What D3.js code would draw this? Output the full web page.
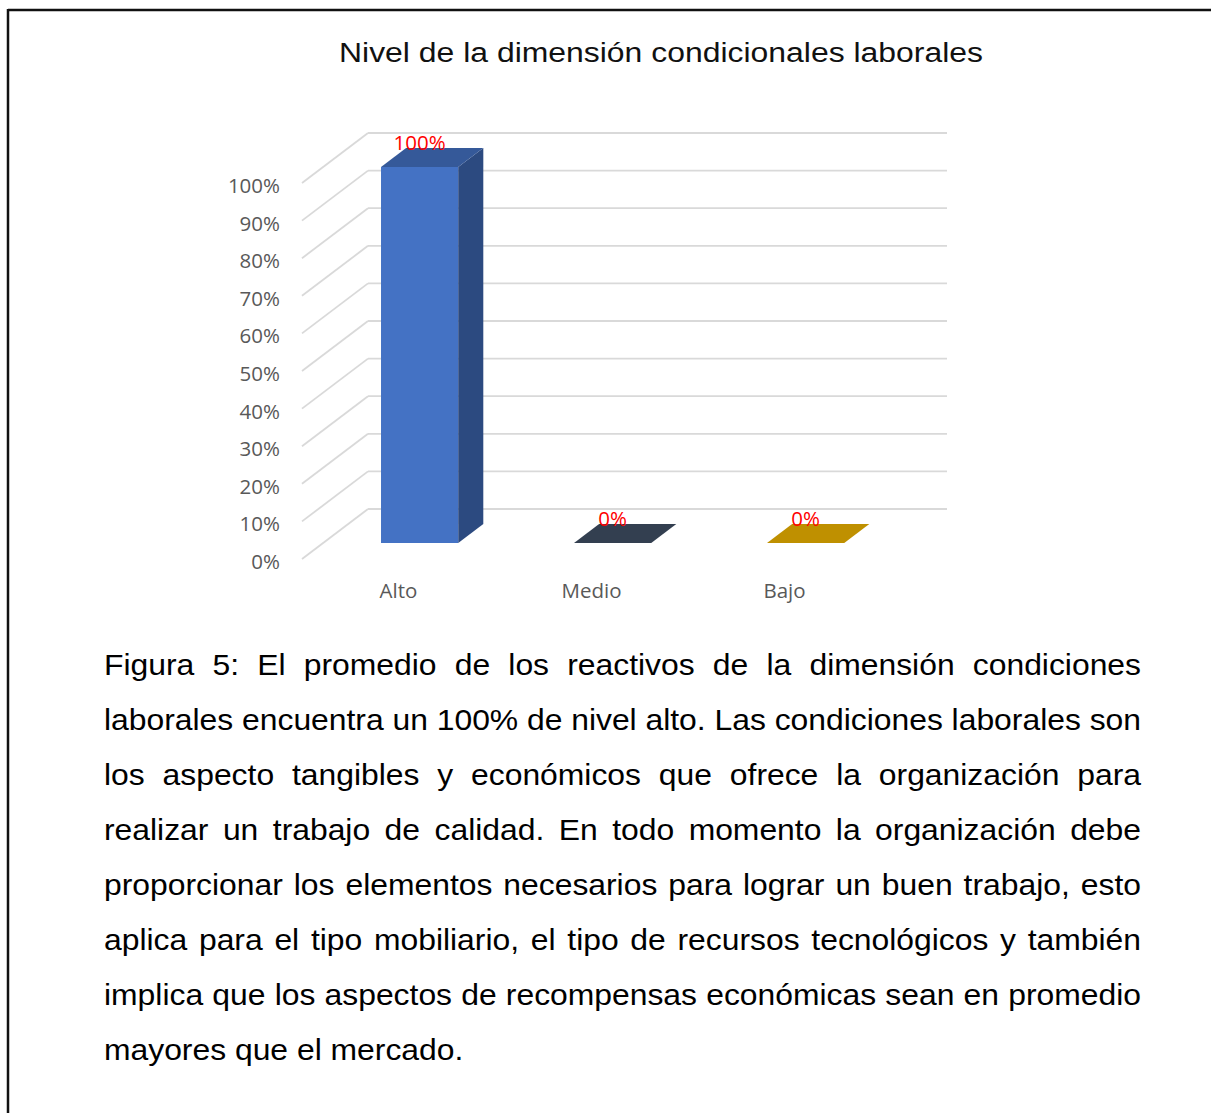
<!DOCTYPE html>
<html>
<head>
<meta charset="utf-8">
<script src="https://cdn.jsdelivr.net/npm/d3@7"></script>
<style>
  html, body { margin: 0; padding: 0; background: #fff; }
  svg { display: block; }
</style>
</head>
<body>
<svg id="fig" width="1211" height="1113"></svg>
<script>
// Chart data
const categories = ["Alto", "Medio", "Bajo"];
const values = [1.00, 0.00, 0.00];
const valueLabels = ["100%", "0%", "0%"];
const barColors = ["#4472C4", "#333F50", "#BF9000"];
const tickValues = [0, 0.1, 0.2, 0.3, 0.4, 0.5, 0.6, 0.7, 0.8, 0.9, 1.0];
const titleText = "Nivel de la dimensión condicionales laborales";
const captionLines = [
  "Figura 5: El promedio de los reactivos de la dimensión condiciones",
  "laborales encuentra un 100% de nivel alto. Las condiciones laborales son",
  "los aspecto tangibles y económicos que ofrece la organización para",
  "realizar un trabajo de calidad. En todo momento la organización debe",
  "proporcionar los elementos necesarios para lograr un buen trabajo, esto",
  "aplica para el tipo mobiliario, el tipo de recursos tecnológicos y también",
  "implica que los aspectos de recompensas económicas sean en promedio",
  "mayores que el mercado."
];

const svg = d3.select("#fig");

// Frame lines (top and left)
svg.append("line").attr("x1", 8).attr("y1", 10).attr("x2", 1211).attr("y2", 10)
  .attr("stroke", "#111").attr("stroke-width", 2.5);
svg.append("line").attr("x1", 8).attr("y1", 9).attr("x2", 8).attr("y2", 1113)
  .attr("stroke", "#111").attr("stroke-width", 2.5);

// Title
svg.append("text")
  .attr("x", 661).attr("y", 62)
  .attr("text-anchor", "middle")
  .attr("font-family", "'Liberation Sans', Arial, sans-serif")
  .attr("font-size", 27)
  .attr("textLength", 644)
  .attr("lengthAdjust", "spacingAndGlyphs")
  .attr("fill", "#111")
  .text(titleText);

// 3D plot geometry: front plane and depth vector
const frontLeft = 302, frontRight = 881;
const floorFront = 559, topFront = 183;
const depth = { dx: 66, dy: -50 };
const barDepth0 = 0.32, barDepth1 = 0.70;

const x = d3.scaleBand().domain(categories).range([frontLeft, frontRight])
  .paddingInner(0.6).paddingOuter(0.3);
const y = d3.scaleLinear().domain([0, 1]).range([floorFront, topFront]);

const g = svg.append("g");

// Back wall gridlines and left-side diagonals
const grid = g.append("g").attr("stroke", "#d9d9d9").attr("stroke-width", 1.8).attr("fill", "none");
tickValues.forEach(v => {
  const yb = y(v) + depth.dy;
  grid.append("line")
    .attr("x1", frontLeft + depth.dx).attr("y1", yb)
    .attr("x2", frontRight + depth.dx).attr("y2", yb);
  grid.append("line")
    .attr("x1", frontLeft).attr("y1", y(v))
    .attr("x2", frontLeft + depth.dx).attr("y2", yb);
});

// Y axis tick labels on the front plane
g.append("g").selectAll("text").data(tickValues).join("text")
  .attr("x", 280).attr("y", d => y(d) + 2)
  .attr("text-anchor", "end")
  .attr("dominant-baseline", "central")
  .attr("font-family", "'Open Sans', sans-serif")
  .attr("font-size", 20.5)
  .attr("fill", "#595959")
  .text(d => d3.format(".0%")(d));

// Category labels
g.append("g").selectAll("text").data(categories).join("text")
  .attr("x", d => x(d) + x.bandwidth() / 2)
  .attr("y", 598)
  .attr("text-anchor", "middle")
  .attr("font-family", "'Open Sans', sans-serif")
  .attr("font-size", 20.5)
  .attr("fill", "#595959")
  .text(d => d);

// 3D bars
const shade = (c, k) => d3.color(c).darker(k).formatHex();
const bars = g.append("g");
categories.forEach((cat, i) => {
  const v = values[i];
  const ox0 = depth.dx * barDepth0, oy0 = depth.dy * barDepth0;
  const ox1 = depth.dx * barDepth1, oy1 = depth.dy * barDepth1;
  const xl = x(cat) + ox0, xr = x(cat) + x.bandwidth() + ox0;
  const yb = y(0) + oy0, yt = y(v) + oy0;
  const ddx = ox1 - ox0, ddy = oy1 - oy0;
  const c = barColors[i];
  if (v > 0) {
    // front face
    bars.append("rect").attr("x", xl).attr("y", yt).attr("width", xr - xl).attr("height", yb - yt)
      .attr("fill", c);
    // side face
    bars.append("path")
      .attr("d", `M${xr},${yt}L${xr + ddx},${yt + ddy}L${xr + ddx},${yb + ddy}L${xr},${yb}Z`)
      .attr("fill", shade(c, 1.2));
  }
  // top face
  bars.append("path")
    .attr("d", `M${xl},${yt}L${xl + ddx},${yt + ddy}L${xr + ddx},${yt + ddy}L${xr},${yt}Z`)
    .attr("fill", v > 0 ? shade(c, 0.7) : c);
  // value label
  bars.append("text")
    .attr("x", x(cat) + x.bandwidth() / 2 + ox0)
    .attr("y", yt - 17)
    .attr("text-anchor", "middle")
    .attr("font-family", "'Open Sans', sans-serif")
    .attr("font-size", 20.5)
    .attr("fill", "#ff0000")
    .text(valueLabels[i]);
});

// Justified caption
const capLeft = 104, capRight = 1141, capBase = 675, capStep = 55, capScale = 1.08;
const cap = svg.append("g");
captionLines.forEach((line, i) => {
  const t = cap.append("text")
    .attr("transform", `translate(${capLeft},${capBase + i * capStep}) scale(${capScale},1)`)
    .attr("font-family", "'Liberation Sans', Arial, sans-serif")
    .attr("font-size", 29.5)
    .attr("fill", "#000")
    .text(line);
  if (i < captionLines.length - 1) {
    const natural = t.node().getComputedTextLength();
    const spaces = (line.match(/ /g) || []).length;
    const target = (capRight - capLeft) / capScale;
    t.style("word-spacing", ((target - natural) / spaces) + "px");
  }
});
</script>
</body>
</html>
